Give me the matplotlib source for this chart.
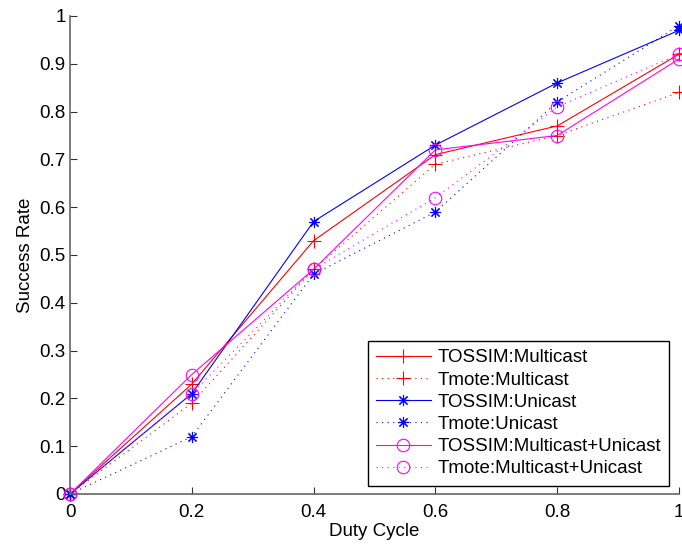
import matplotlib
matplotlib.use("Agg")
import matplotlib.pyplot as plt
from matplotlib.ticker import FormatStrFormatter, MultipleLocator

plt.rcParams["font.family"] = ["Liberation Sans", "DejaVu Sans"]

duty_cycle = [0, 0.2, 0.4, 0.6, 0.8, 1.0]

tossim_multicast = [0, 0.23, 0.53, 0.71, 0.77, 0.92]
tmote_multicast = [0, 0.19, 0.47, 0.69, 0.75, 0.84]
tossim_unicast = [0, 0.21, 0.57, 0.73, 0.86, 0.97]
tmote_unicast = [0, 0.12, 0.46, 0.59, 0.82, 0.98]
tossim_both = [0, 0.25, 0.47, 0.72, 0.75, 0.91]
tmote_both = [0, 0.21, 0.47, 0.62, 0.81, 0.92]

labels = [
    "TOSSIM:Multicast",
    "Tmote:Multicast",
    "TOSSIM:Unicast",
    "Tmote:Unicast",
    "TOSSIM:Multicast+Unicast",
    "Tmote:Multicast+Unicast",
]

dotted = (0, (1, 4))
asterisk = (8, 2, 0)
fs = 13.5

fig = plt.figure(figsize=(6.82, 5.47), dpi=100)
ax = fig.add_axes([70 / 682, 1 - 494 / 547, 609 / 682, 478 / 547])

series = [
    (tossim_multicast, "red", "-", "+", 10),
    (tmote_multicast, "red", dotted, "+", 10),
    (tossim_unicast, "blue", "-", asterisk, 8),
    (tmote_unicast, "blue", dotted, asterisk, 8),
    (tossim_both, "magenta", "-", "o", 9),
    (tmote_both, "magenta", dotted, "o", 9),
]

for (vals, color, ls, mk, ms), lab in zip(series, labels):
    ax.plot(duty_cycle, vals, color=color, linestyle=ls, linewidth=0.8,
            marker=mk, markersize=ms, markerfacecolor="none",
            markeredgecolor=color, markeredgewidth=0.8, label=lab,
            clip_on=False)

ax.set_xlim(0, 1)
ax.set_ylim(0, 1)
ax.xaxis.set_major_locator(MultipleLocator(0.2))
ax.yaxis.set_major_locator(MultipleLocator(0.1))
ax.xaxis.set_major_formatter(FormatStrFormatter("%g"))
ax.yaxis.set_major_formatter(FormatStrFormatter("%g"))

for side in ["top", "right"]:
    ax.spines[side].set_visible(False)
for side in ["left", "bottom"]:
    ax.spines[side].set_color("#666666")
    ax.spines[side].set_linewidth(1.2)

ax.tick_params(direction="in", length=5, width=0.8, color="#333333",
               labelsize=fs, labelcolor="black")
ax.tick_params(axis="x", pad=7)
ax.tick_params(axis="y", pad=3)

ax.set_xlabel("Duty Cycle", fontsize=fs, labelpad=2)
ax.set_ylabel("Success Rate", fontsize=fs, labelpad=4)

leg = ax.legend(loc="lower right", bbox_to_anchor=(0.984, 0.017),
                fontsize=fs, frameon=True, fancybox=False, shadow=False,
                handlelength=2.9, handletextpad=0.35, labelspacing=0.27,
                borderpad=0.45, borderaxespad=0)
leg.get_frame().set_edgecolor("black")
leg.get_frame().set_linewidth(1.0)
leg.get_frame().set_alpha(1)

fig.savefig("out.png", dpi=100)
